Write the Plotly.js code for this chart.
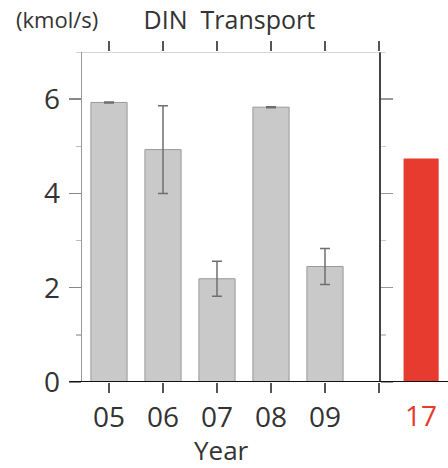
<!DOCTYPE html>
<html><head><meta charset="utf-8">
<script src="https://cdn.plot.ly/plotly-3.0.1.min.js"></script>
<style>html,body{margin:0;padding:0;background:#fff}#c{width:448px;height:468px}</style>
</head><body><div id="c"></div>
<script>
const years = ['05','06','07','08','09'];
const yearPos = [0,1,2,3,4];
const transport = [5.93, 4.93, 2.19, 5.83, 2.45];
const transportErr = [0.01, 0.93, 0.37, 0.01, 0.38];
const recentLabel = '17';
const recentPos = 5.78;
const recentValue = 4.74;

const F = '"Open Sans", "Noto Sans", sans-serif';
const data = [
  {type:'bar', x:yearPos, y:transport, width:0.67,
   marker:{color:'#c9c9c9', line:{color:'#9a9a9a', width:1}},
   error_y:{type:'data', array:transportErr, visible:true, color:'#6f6f6f', thickness:1.5, width:5},
   hoverinfo:'none', showlegend:false},
  {type:'bar', x:[recentPos], y:[recentValue], width:0.65,
   marker:{color:'#e63b2e', line:{width:0}}, hoverinfo:'none', showlegend:false},
  {type:'scatter', x:[0], y:[0], xaxis:'x2', yaxis:'y2', mode:'none', showlegend:false, hoverinfo:'none'}
];
const layout = {
  width:448, height:468, margin:{l:82, r:0, t:52, b:86},
  paper_bgcolor:'#fff', plot_bgcolor:'rgba(0,0,0,0)',
  font:{family:F, color:'#333'},
  title:{text:'DIN  Transport', font:{size:25, color:'#333', family:F}, x:0.512, xanchor:'center', y:0.957, yanchor:'middle'},
  xaxis:{range:[-0.5, 6.278], tickvals:[0,1,2,3,4,5], ticktext:years.concat(['']),
    ticks:'outside', ticklen:10, tickcolor:'#555', tickwidth:1.5,
    showline:false, zeroline:false, showgrid:false,
    tickfont:{size:28, color:'#333'}, ticklabelstandoff:0},
  xaxis2:{overlaying:'x', range:[-0.5, 6.278], side:'top', anchor:'y',
    tickvals:[0,1,2,3,4,5], showticklabels:false, ticks:'outside', ticklen:10, tickcolor:'#555', tickwidth:1.5,
    showline:false, showgrid:false, zeroline:false},
  yaxis:{range:[0,7], tickvals:[0,2,4,6], ticks:'outside', ticklen:12, tickcolor:'#888', tickwidth:1.5,
    minor:{tickvals:[1,3,5], ticks:'outside', ticklen:5, tickcolor:'#bbb'},
    showline:true, linecolor:'#999', linewidth:1.5, showgrid:false, zeroline:false,
    tickfont:{size:28, color:'#333'}, ticklabelstandoff:3},
  yaxis2:{overlaying:'y', anchor:'free', position:0.8115, side:'right', range:[0,7],
    tickvals:[0,2,4,6], showticklabels:false, ticks:'outside', ticklen:12, tickcolor:'#999', tickwidth:1.5,
    minor:{tickvals:[1,3,5], ticks:'outside', ticklen:5, tickcolor:'#ccc'},
    showline:true, linecolor:'#444', linewidth:1.5, showgrid:false, zeroline:false},
  shapes:[
    {type:'line', xref:'paper', yref:'y', x0:-0.035, x1:1, y0:0, y1:0, line:{color:'#111', width:2}, layer:'above'},
    {type:'line', xref:'paper', yref:'y', x0:-0.017, x1:0.83, y0:7, y1:7, line:{color:'#aaa', width:1}, layer:'above'}
  ],
  annotations:[
    {text:'(kmol/s)', xref:'paper', yref:'paper', x:-0.185, y:1.1, xanchor:'left', yanchor:'middle', showarrow:false, font:{size:22, color:'#333'}},
    {text:recentLabel, xref:'x', yref:'paper', x:recentPos, y:-0.1, xanchor:'center', yanchor:'middle', showarrow:false, font:{size:28, color:'#e63b2e'}},
    {text:'Year', xref:'x', yref:'paper', x:2.09, y:-0.205, xanchor:'center', yanchor:'middle', showarrow:false, font:{size:26, color:'#333'}}
  ]
};
Plotly.newPlot('c', data, layout, {displayModeBar:false, staticPlot:true});
</script></body></html>
